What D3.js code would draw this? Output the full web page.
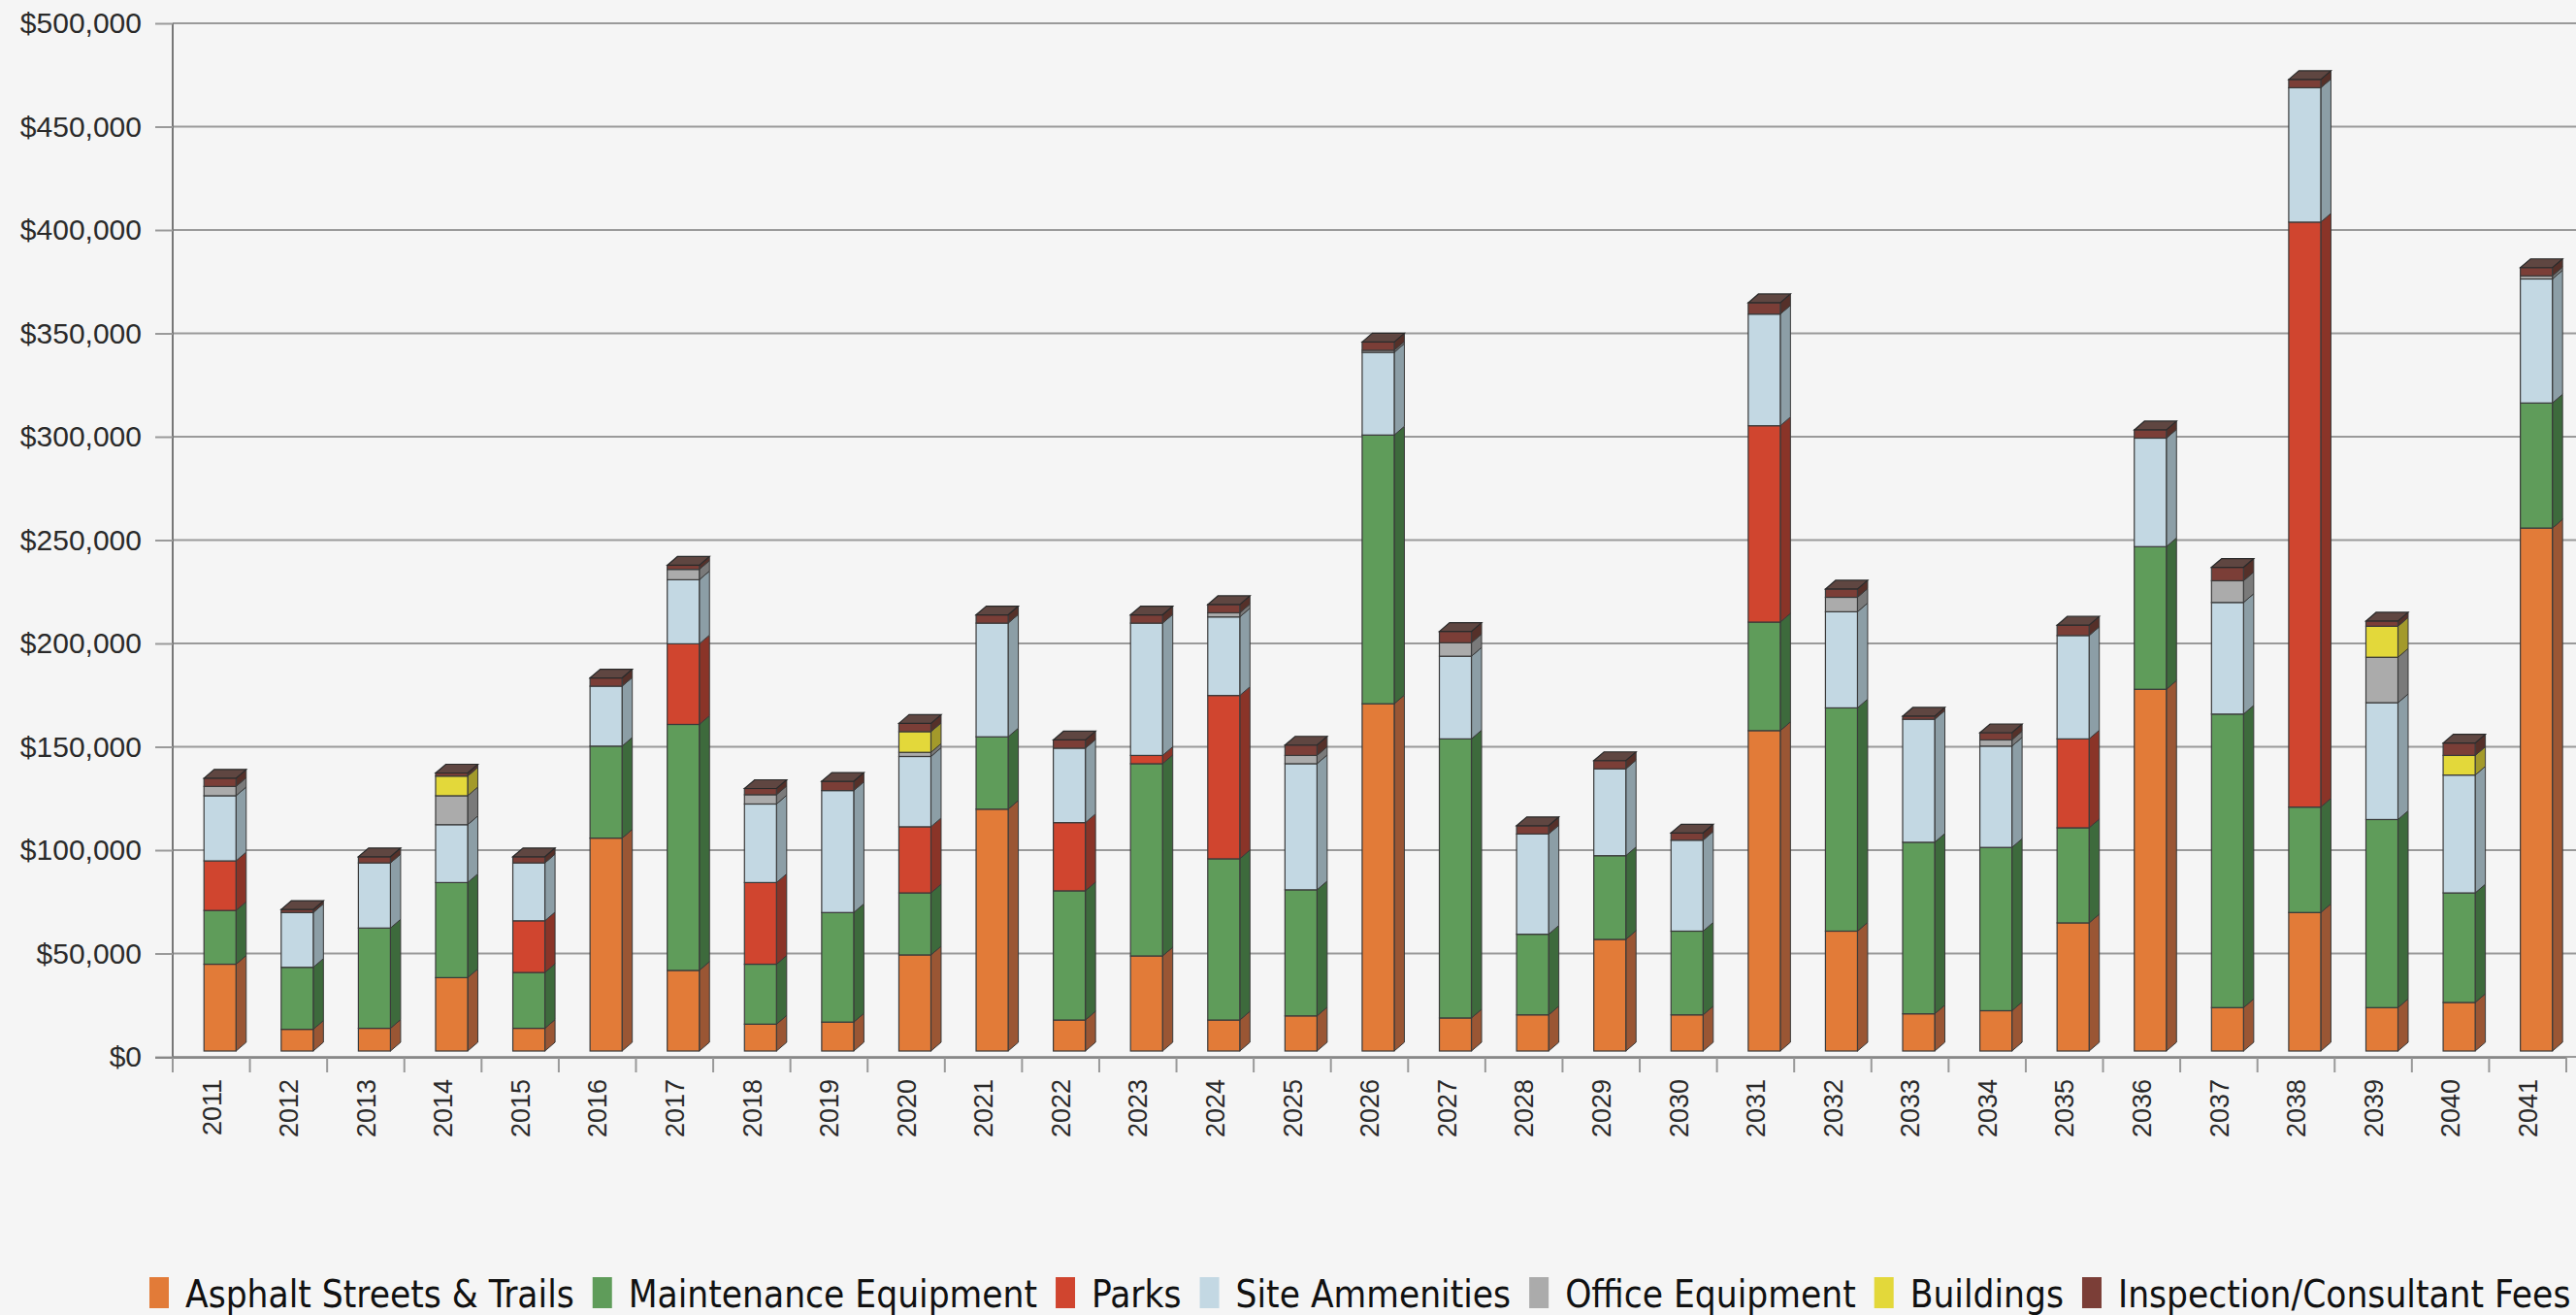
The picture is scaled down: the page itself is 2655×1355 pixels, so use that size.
<!DOCTYPE html>
<html><head><meta charset="utf-8">
<script src="https://cdn.jsdelivr.net/npm/d3@7"></script>
<style>html,body{margin:0;padding:0;background:#f5f5f5;} svg{display:block;}</style>
</head><body>
<svg id="chart" width="2655" height="1355"></svg>
<script>
// ---------- DATA ----------
const years = ["2011","2012","2013","2014","2015","2016","2017","2018","2019","2020","2021","2022","2023","2024","2025","2026","2027","2028","2029","2030","2031","2032","2033","2034","2035","2036","2037","2038","2039","2040","2041"];
const seriesNames = ["Asphalt Streets & Trails","Maintenance Equipment","Parks","Site Ammenities","Office Equipment","Buildings","Inspection/Consultant Fees"];
const asphalt     = [42000,10500,11000,35500,11000,103000,39000,13000,14000,46500,117000,15000,46000,15000,17000,168000,16000,17500,54000,17500,155000,58000,18000,19500,62000,175000,21000,67000,21000,23500,253000];
const maintenance = [26000,30000,48500,46000,27000,44500,119000,29000,53000,30000,35000,62500,93000,78000,61000,130000,135000,39000,40500,40500,52500,108000,83000,79000,46000,69000,142000,51000,91000,53000,60500];
const parks       = [24000,0,0,0,25000,0,39000,39500,0,32000,0,33000,4000,79000,0,0,0,0,0,0,95000,0,0,0,43000,0,0,283000,0,0,0];
const site        = [31500,26500,31500,28000,28000,29000,31000,38000,59000,34000,55000,36000,64000,38000,61000,40000,40000,48500,42000,44000,54000,46500,59500,49000,50000,52500,54000,65000,56500,57000,60000];
const office      = [4500,0,0,14000,0,0,5000,4500,0,2000,0,0,0,2000,4000,1000,6500,0,0,0,0,7000,0,3000,0,0,10500,0,22000,0,1500];
const buildings   = [0,0,0,9500,0,0,0,0,0,10000,0,0,0,0,0,0,0,0,0,0,0,0,0,0,0,0,0,0,15000,9500,0];
const inspection  = [4000,1500,3000,1500,3000,4000,2000,3000,4500,4000,4000,4000,4000,4000,5000,4000,5500,4000,4000,3500,5500,4000,1500,3500,5000,4000,6500,4000,2500,6000,4000];
const yTicks = [0,50000,100000,150000,200000,250000,300000,350000,400000,450000,500000];

// ---------- STYLE ----------
const keys = ["asphalt","maintenance","parks","site","office","buildings","inspection"];
const frontColor = ["#E27B38","#5F9C5A","#D0452F","#C3D8E3","#ABABAB","#E3D83A","#7B3E37"];
const sideColor  = ["#9A5634","#3D6A3C","#8A3428","#8C9EA6","#7A7A7A","#A39A2B","#553029"];
const topColor   = ["#B86A3A","#4E7F4B","#A23C2E","#A3B6BF","#8E8E8E","#C2B833","#5F4641"];

const W = 2655, H = 1355;
const svg = d3.select("#chart");
svg.append("rect").attr("width", W).attr("height", H).attr("fill", "#f5f5f5");

const x = d3.scaleBand().domain(years).range([178, 2645]).padding(0);
const yGrid = d3.scaleLinear().domain([0, 500000]).range([1089, 24]);
const yBar  = d3.scaleLinear().domain([0, 500000]).range([1083, 18]);

// gridlines
svg.append("g").selectAll("line").data(yTicks).join("line")
  .attr("x1", 178).attr("x2", W)
  .attr("y1", d => yGrid(d)).attr("y2", d => yGrid(d))
  .attr("stroke", "#9a9a9a").attr("stroke-width", 2);

// y axis
const yAxis = svg.append("g").attr("transform", "translate(178,0)")
  .call(d3.axisLeft(yGrid).tickValues(yTicks).tickSize(18).tickPadding(14)
    .tickFormat(d => "$" + d3.format(",")(d)));
yAxis.select(".domain").attr("stroke", "#777").attr("stroke-width", 2).attr("d", "M0,24V1105");
yAxis.selectAll(".tick line").attr("stroke", "#9a9a9a").attr("stroke-width", 2);
yAxis.selectAll("text").attr("fill", "#2a2a2a")
  .style("font-family", "'Liberation Sans', Arial, sans-serif").style("font-size", "30px");

// x axis
const xAxis = svg.append("g").attr("transform", "translate(0,1090)")
  .call(d3.axisBottom(x).tickSize(0));
xAxis.select(".domain").attr("stroke", "#888").attr("stroke-width", 2).attr("d", "M160,0H2645");
xAxis.selectAll("text")
  .attr("transform", "rotate(-90)").attr("x", -22).attr("y", 0).attr("dy", "0.36em")
  .style("text-anchor", "end").attr("fill", "#2a2a2a")
  .style("font-family", "'Liberation Sans', Arial, sans-serif").style("font-size", "27px");
// category boundary ticks
svg.append("g").selectAll("line").data(years.concat(["end"])).join("line")
  .attr("x1", d => d === "end" ? 2645 : x(d)).attr("x2", d => d === "end" ? 2645 : x(d))
  .attr("y1", 1090).attr("y2", 1105).attr("stroke", "#999").attr("stroke-width", 2);

// ---------- BARS ----------
const data = years.map((yr, i) => ({
  year: yr, asphalt: asphalt[i], maintenance: maintenance[i], parks: parks[i],
  site: site[i], office: office[i], buildings: buildings[i], inspection: inspection[i]
}));
const stacked = d3.stack().keys(keys)(data);
const bw = x.bandwidth();
const fw = bw * 0.415, fx = bw * 0.405;
const dx = 10.5, dy = -9;

const barsG = svg.append("g");
years.forEach((yr, i) => {
  const g = barsG.append("g");
  const xl = x(yr) + fx, xr = xl + fw;
  let topIdx = -1;
  stacked.forEach((layer, k) => { if (layer[i][1] - layer[i][0] > 0) topIdx = k; });
  stacked.forEach((layer, k) => {
    const d = layer[i];
    if (d[1] - d[0] <= 0) return;
    const y0 = yBar(d[0]), y1 = yBar(d[1]);
    // side face
    g.append("polygon")
      .attr("points", [[xr, y1], [xr + dx, y1 + dy], [xr + dx, y0 + dy], [xr, y0]].map(p => p.join(",")).join(" "))
      .attr("fill", sideColor[k]).attr("stroke", "#3a3a3a").attr("stroke-width", 1);
    // front face
    g.append("rect").attr("x", xl).attr("y", y1).attr("width", fw).attr("height", y0 - y1)
      .attr("fill", frontColor[k]).attr("stroke", "#3a3a3a").attr("stroke-width", 1.2);
  });
  if (topIdx >= 0) {
    const yt = yBar(stacked[topIdx][i][1]);
    g.append("polygon")
      .attr("points", [[xl, yt], [xl + dx, yt + dy], [xr + dx, yt + dy], [xr, yt]].map(p => p.join(",")).join(" "))
      .attr("fill", topColor[topIdx]).attr("stroke", "#2a2a2a").attr("stroke-width", 1.2);
  }
});

// ---------- LEGEND ----------
const legend = svg.append("g");
const items = legend.selectAll("g").data(seriesNames).join("g");
items.append("rect").attr("width", 20).attr("height", 32).attr("y", 1316)
  .attr("fill", (d, i) => frontColor[i]);
const texts = items.append("text").text(d => d).attr("y", 1347).attr("fill", "#111")
  .style("font-family", "'DejaVu Sans Condensed', 'DejaVu Sans', sans-serif").style("font-size", "34px");
let total = 0;
texts.each(function () { total += this.getComputedTextLength(); });
const fs = 34 * 2123 / total;
texts.style("font-size", fs + "px");
let cx = 154;
items.each(function () {
  const it = d3.select(this);
  it.select("rect").attr("x", cx);
  const t = it.select("text").attr("x", cx + 37);
  cx += 37 + t.node().getComputedTextLength() + 19;
});
</script>
</body></html>
